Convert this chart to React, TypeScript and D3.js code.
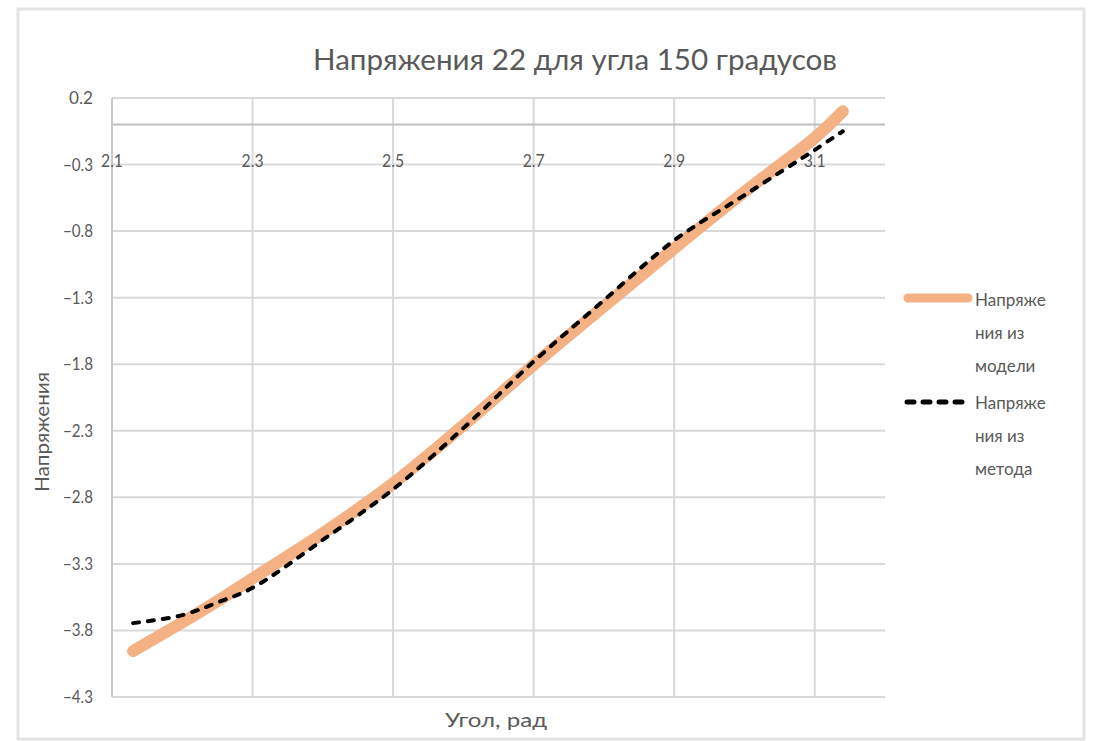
import React from "react";
import * as d3 from "d3";

// Angle (rad) at which both curves are sampled
const angles = [2.13, 2.2, 2.25, 2.3, 2.4, 2.5, 2.6, 2.7, 2.8, 2.9, 3.0, 3.1, 3.14];
// Stresses from the model
const modelStress = [-3.955, -3.74, -3.58, -3.41, -3.07, -2.695, -2.26, -1.805, -1.365, -0.93, -0.505, -0.10, 0.10];
// Stresses from the method
const methodStress = [-3.745, -3.685, -3.59, -3.48, -3.12, -2.74, -2.28, -1.78, -1.32, -0.87, -0.53, -0.19, -0.05];

const xTicks = [2.1, 2.3, 2.5, 2.7, 2.9, 3.1];
const yTicks = [0.2, -0.3, -0.8, -1.3, -1.8, -2.3, -2.8, -3.3, -3.8, -4.3];

const title = "Напряжения 22 для угла 150 градусов";
const xTitle = "Угол, рад";
const yTitle = "Напряжения";
const legendModel = ["Напряже", "ния из", "модели"];
const legendMethod = ["Напряже", "ния из", "метода"];

const W = 1097;
const H = 741;
const FONT = "Lato, 'Open Sans', sans-serif";
const TEXT = "#595959";
const GRID = "#d9d9d9";
const ORANGE = "#f4b183";

export default function App() {
  const x = d3.scaleLinear().domain([2.1, 3.2]).range([112, 885]);
  const y = d3.scaleLinear().domain([0.2, -4.3]).range([98, 697]);

  const model = angles.map((a, i) => [a, modelStress[i]] as [number, number]);
  const method = angles.map((a, i) => [a, methodStress[i]] as [number, number]);
  const line = d3
    .line<[number, number]>()
    .x((d) => x(d[0]))
    .y((d) => y(d[1]))
    .curve(d3.curveCatmullRom.alpha(0.5));

  const fmt = d3.format(".1f");
  const [x0, x1] = x.range();
  const [yTop, yBot] = y.range();

  return (
    <svg
      width={W}
      height={H}
      style={{ position: "fixed", left: 0, top: 0, background: "#fff" }}
      fontFamily={FONT}
    >
      <rect x={0} y={0} width={W} height={H} fill="#fff" />
      {/* chart frame */}
      <rect x={18} y={9} width={1066} height={730} fill="none" stroke="#e3e3e3" strokeWidth={3} />

      {/* title */}
      <text x={575} y={70} textAnchor="middle" fontSize={28} fill={TEXT} textLength={524} lengthAdjust="spacingAndGlyphs">
        {title}
      </text>

      {/* horizontal gridlines */}
      {yTicks.map((t) => (
        <line key={"h" + t} x1={x0} x2={x1} y1={y(t)} y2={y(t)} stroke={GRID} strokeWidth={2} />
      ))}
      {/* vertical gridlines */}
      {xTicks.map((t) => (
        <line key={"v" + t} x1={x(t)} x2={x(t)} y1={yTop} y2={yBot} stroke={GRID} strokeWidth={2} />
      ))}
      {/* axis lines */}
      <line x1={x0} x2={x1} y1={y(0)} y2={y(0)} stroke="#bfbfbf" strokeWidth={2} />
      <line x1={x0} x2={x0} y1={yTop} y2={yBot} stroke="#c8c8c8" strokeWidth={2} />

      {/* y tick labels */}
      {yTicks.map((t) => (
        <text key={"yl" + t} x={93} y={y(t) + 6} textAnchor="end" fontSize={17} fill={TEXT} textLength={fmt(t).length > 3 ? 30 : 24} lengthAdjust="spacingAndGlyphs">
          {fmt(t)}
        </text>
      ))}
      {/* x tick labels, placed under the zero axis */}
      {xTicks.map((t) => (
        <text key={"xl" + t} x={x(t)} y={y(0) + 42} textAnchor="middle" fontSize={18} fill={TEXT} textLength={22} lengthAdjust="spacingAndGlyphs">
          {fmt(t)}
        </text>
      ))}

      {/* axis titles */}
      <text x={496} y={727} textAnchor="middle" fontSize={19} fill={TEXT} textLength={102} lengthAdjust="spacingAndGlyphs">
        {xTitle}
      </text>
      <text
        transform="translate(49,432) rotate(-90)"
        textAnchor="middle"
        fontSize={19}
        fill={TEXT}
        textLength={120}
        lengthAdjust="spacingAndGlyphs"
      >
        {yTitle}
      </text>

      {/* series */}
      <path d={line(model) ?? ""} fill="none" stroke={ORANGE} strokeWidth={12} strokeLinecap="round" strokeLinejoin="round" />
      <path
        d={line(method) ?? ""}
        fill="none"
        stroke="#000"
        strokeWidth={4}
        strokeDasharray="6 9"
        strokeLinecap="round"
      />

      {/* legend */}
      <line x1={908} x2={968} y1={298} y2={298} stroke={ORANGE} strokeWidth={9} strokeLinecap="round" />
      {legendModel.map((s, i) => (
        <text key={"lm" + i} x={975} y={306 + i * 33} fontSize={17} fill={TEXT}>
          {s}
        </text>
      ))}
      <line x1={907} x2={968} y1={402} y2={402} stroke="#000" strokeWidth={5} strokeDasharray="7 9" strokeLinecap="round" />
      {legendMethod.map((s, i) => (
        <text key={"ld" + i} x={975} y={409 + i * 33} fontSize={17} fill={TEXT}>
          {s}
        </text>
      ))}
    </svg>
  );
}
